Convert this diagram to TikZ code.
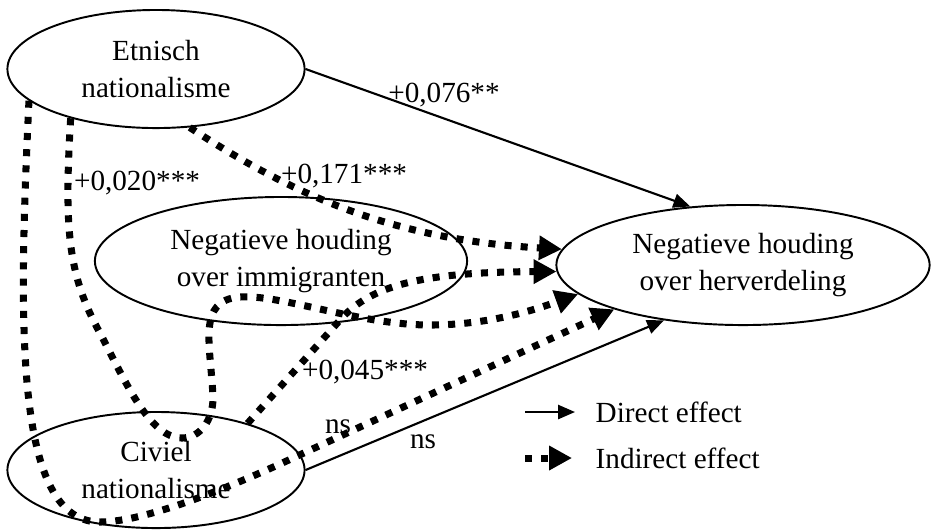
\documentclass[tikz,border=0pt]{standalone}
\usepackage{fontspec}
\setmainfont{Liberation Serif}
\usepackage{tikz}
\usetikzlibrary{shapes,arrows.meta}

\begin{document}
\begin{tikzpicture}[x=0.01cm, y=-0.01cm,
    font=\fontsize{8.3}{10.8}\selectfont,
    factor/.style={ellipse, draw, line width=0.55pt, inner sep=0pt, align=center},
    direct/.style={line width=0.6pt, -{Triangle[length=4.8pt, width=4pt]}},
    indirect/.style={line width=2pt, dash pattern=on 2pt off 2.6pt, -{Triangle[length=6.5pt, width=6.6pt]}},
    coef/.style={inner sep=0pt}]
    \useasboundingbox (0,0) rectangle (934,529);
    % Place nodes
    \node [factor, minimum width=2.97cm, minimum height=1.18cm] (etnisch) at (156,69) {Etnisch\\nationalisme};
    \node [factor, minimum width=3.72cm, minimum height=1.28cm] (immig) at (281,261) {Negatieve houding\\over immigranten};
    \node [factor, minimum width=3.73cm, minimum height=1.20cm] (herv) at (743,265) {Negatieve houding\\over herverdeling};
    \node [factor, minimum width=2.97cm, minimum height=1.16cm] (civiel) at (156,470) {Civiel\\nationalisme};
    % Coefficients
    \node [coef] (c076) at (444,95) {+0,076**};
    \node [coef] (c171) at (344,176) {+0,171***};
    \node [coef] (c020) at (137,183) {+0,020***};
    \node [coef] (c045) at (365,372) {+0,045***};
    \node [coef] (cns1) at (338,427) {ns};
    \node [coef] (cns2) at (423,442) {ns};
    % Direct effects
    \path [draw, direct] (etnisch.east) -- (herv.132);
    \path [draw, direct] (civiel.east) -- (herv.215);
    % Indirect effects
    \path [draw, indirect] (etnisch.300) .. controls (300,200) and (400,240) .. (herv.175);
    \path [draw, indirect] (civiel.27) -- (340,320) .. controls (370,286) and (420,272) .. (herv.182);
    \path [draw, indirect] (etnisch.210) .. controls (64,230) and (68,275) .. (100,333)
        .. controls (126,383) and (150,438) .. (182,438)
        .. controls (200,438) and (213,420) .. (213,398)
        .. controls (211,345) and (196,300) .. (240,297)
        .. controls (280,294) and (360,325) .. (430,325)
        .. controls (490,325) and (537,309) .. (herv.190);
    \path [draw, indirect] (etnisch.194) .. controls (18,330) and (15,522) .. (100,522)
        .. controls (150,522) and (248,479) .. (293,458) -- (herv.199);
    % Legend
    \coordinate (dstart) at (525,412);
    \coordinate (dend) at (575,412);
    \coordinate (istart) at (525,458);
    \coordinate (iend) at (572,458);
    \node [coef, anchor=west] (ldirect) at (595,412) {Direct effect};
    \node [coef, anchor=west] (lindirect) at (595,458) {Indirect effect};
    \path [draw, direct] (dstart) -- (dend);
    \path [draw, indirect] (istart) -- (iend);
\end{tikzpicture}
\end{document}
